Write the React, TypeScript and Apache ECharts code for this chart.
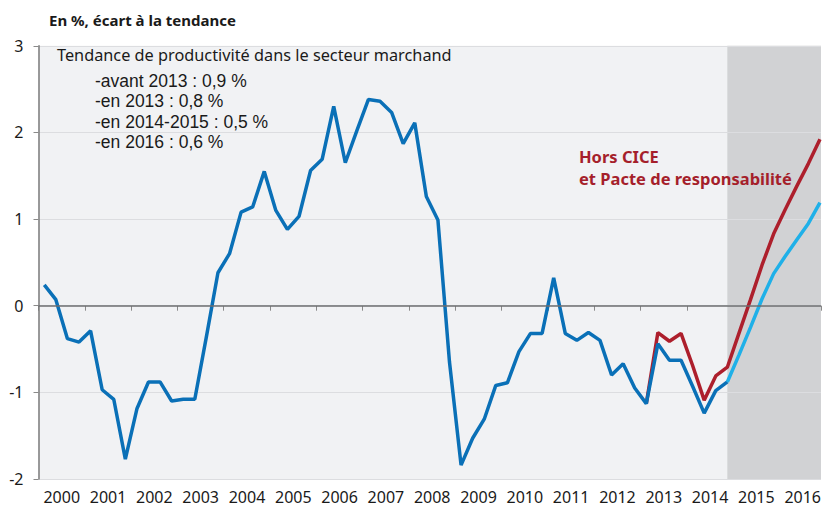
import React, { useEffect, useRef } from "react";
import * as echarts from "echarts";

const firstYear = 2000;
const years = ["2000","2001","2002","2003","2004","2005","2006","2007","2008","2009","2010","2011","2012","2013","2014","2015","2016"];

// Observed productivity gap (blue), 2000Q1 - 2014Q4
const observed = [
  0.24, 0.07, -0.38, -0.42,
  -0.29, -0.97, -1.08, -1.77,
  -1.19, -0.88, -0.88, -1.10,
  -1.08, -1.08, -0.36, 0.38,
  0.60, 1.08, 1.14, 1.55,
  1.10, 0.88, 1.03, 1.56,
  1.69, 2.30, 1.65, 2.02,
  2.38, 2.36, 2.23, 1.87,
  2.11, 1.26, 0.99, -0.65,
  -1.84, -1.53, -1.31, -0.92,
  -0.89, -0.53, -0.32, -0.32,
  0.32, -0.32, -0.40, -0.31,
  -0.40, -0.80, -0.67, -0.95,
  -1.13, -0.44, -0.63, -0.63,
  -0.93, -1.24, -0.98, -0.88,
];
const observedStart = 0; // 2000Q1

// Hors CICE et Pacte de responsabilité (red), 2013Q1 - 2016Q4
const horsCice = [-1.13, -0.31, -0.41, -0.32, -0.69, -1.09, -0.81, -0.71, -0.32, 0.07, 0.47, 0.83, 1.11, 1.38, 1.64, 1.92];
const horsCiceStart = 52; // 2013Q1

// Projection (cyan), 2014Q4 - 2016Q4
const projection = [-0.88, -0.57, -0.25, 0.08, 0.37, 0.57, 0.76, 0.95, 1.19];
const projectionStart = 59; // 2014Q4

const trendLines = ["-avant 2013 : 0,9 %", "-en 2013 : 0,8 %", "-en 2014-2015 : 0,5 %", "-en 2016 : 0,6 %"];

const yTicks = { min: -2, max: 3, interval: 1 };
const shadeFrom = 59.5; // centre of 2014Q4
const xMax = 67.59; // visible part of the quarter axis (chart cropped in 2016)

const toPoints = (arr: number[], start: number) => arr.map((v, i) => [start + i + 0.5, v]);

export default function App() {
  const ref = useRef<HTMLDivElement>(null);
  useEffect(() => {
    document.body.style.margin = "0";
    if (!ref.current) return;
    const chart = echarts.init(ref.current, undefined, { renderer: "svg" });
    const font = "Noto Sans";
    const quarterPx = (824 - 38.5) / xMax;
    chart.setOption({
      animation: false,
      textStyle: { fontFamily: font },
      grid: {
        left: 38.5,
        top: 45.75,
        right: 0,
        height: 433.25,
        show: true,
        backgroundColor: "#f1f2f4",
        borderWidth: 0,
        z: 0,
      },
      xAxis: {
        type: "value",
        min: 0,
        max: xMax,
        interval: 4,
        axisLine: { show: false },
        axisTick: {
          show: true,
          length: 5,
          lineStyle: { color: "#8a8a8a", width: 1 },
        },
        axisLabel: {
          fontSize: 16,
          color: "#1a1a1a",
          margin: 10,
          fontFamily: font,
          align: "center",
          padding: [0, 0, 0, quarterPx * 4],
          showMinLabel: true,
          showMaxLabel: true,
          hideOverlap: false,
          formatter: (v: number) => {
            const k = Math.round(v);
            if (Math.abs(v - k) > 1e-6 || k % 4 !== 0) return "";
            return years[k / 4] ?? String(firstYear + k / 4);
          },
        },
        splitLine: { show: false },
        z: 0,
      },
      yAxis: {
        type: "value",
        min: yTicks.min,
        max: yTicks.max,
        interval: yTicks.interval,
        axisLine: { show: true, lineStyle: { color: "#7a7a7a", width: 1.5 } },
        axisTick: { show: true, length: 5, lineStyle: { color: "#8a8a8a" } },
        axisLabel: { fontSize: 16, color: "#1a1a1a", margin: 15, fontFamily: font },
        splitLine: { show: true, lineStyle: { color: "#dcdde0", width: 1 } },
        z: 1.5,
      },
      series: [
        {
          name: "shade",
          type: "line",
          data: toPoints(projection, projectionStart),
          showSymbol: false,
          lineStyle: { opacity: 0 },
          silent: true,
          z: 1,
          markArea: {
            silent: true,
            itemStyle: { color: "#d1d2d4" },
            data: [[{ xAxis: shadeFrom, yAxis: yTicks.min }, { xAxis: xMax, yAxis: yTicks.max }]],
          },
        },
        {
          name: "zero",
          type: "line",
          data: [],
          z: 1.8,
          silent: true,
          markLine: {
            silent: true,
            symbol: "none",
            label: { show: false },
            lineStyle: { color: "#6d6e70", width: 1.5, type: "solid" },
            data: [{ yAxis: 0 }],
          },
        },
        {
          name: "Hors CICE et Pacte de responsabilité",
          type: "line",
          data: toPoints(horsCice, horsCiceStart),
          showSymbol: false,
          lineStyle: { color: "#ad1f2c", width: 3.5 },
          z: 2,
        },
        {
          name: "Observé",
          type: "line",
          data: toPoints(observed, observedStart),
          showSymbol: false,
          lineStyle: { color: "#0a70b7", width: 3.5 },
          z: 3,
        },
        {
          name: "Projection",
          type: "line",
          data: toPoints(projection, projectionStart),
          showSymbol: false,
          lineStyle: { color: "#1fb0e8", width: 3.5 },
          z: 3,
        },
      ],
      graphic: [
        {
          type: "text",
          left: 49,
          top: 10,
          z: 10,
          style: { text: "En %, écart à la tendance", font: `bold 15px "${font}"`, fill: "#1a1a1a", lineHeight: 20 },
        },
        {
          type: "text",
          left: 57,
          top: 45,
          z: 10,
          style: { text: "Tendance de productivité dans le secteur marchand", font: `16.3px "${font}"`, fill: "#1a1a1a", lineHeight: 20 },
        },
        ...trendLines.map((t, i) => ({
          type: "text",
          left: 95,
          top: 71.5 + i * 20.3,
          z: 10,
          style: { text: t, font: `17.5px "Liberation Sans"`, lineHeight: 19, fill: "#1a1a1a" },
        })),
        {
          type: "text",
          left: 579,
          top: 145,
          z: 10,
          style: { text: "Hors CICE", font: `bold 16.5px "${font}"`, lineHeight: 22, fill: "#a51f2b" },
        },
        {
          type: "text",
          left: 579,
          top: 167.6,
          z: 10,
          style: { text: "et Pacte de responsabilité", font: `bold 16.5px "${font}"`, lineHeight: 22, fill: "#a51f2b" },
        },
      ],
    });
    return () => chart.dispose();
  }, []);
  return <div ref={ref} style={{ width: 824, height: 508 }} />;
}
